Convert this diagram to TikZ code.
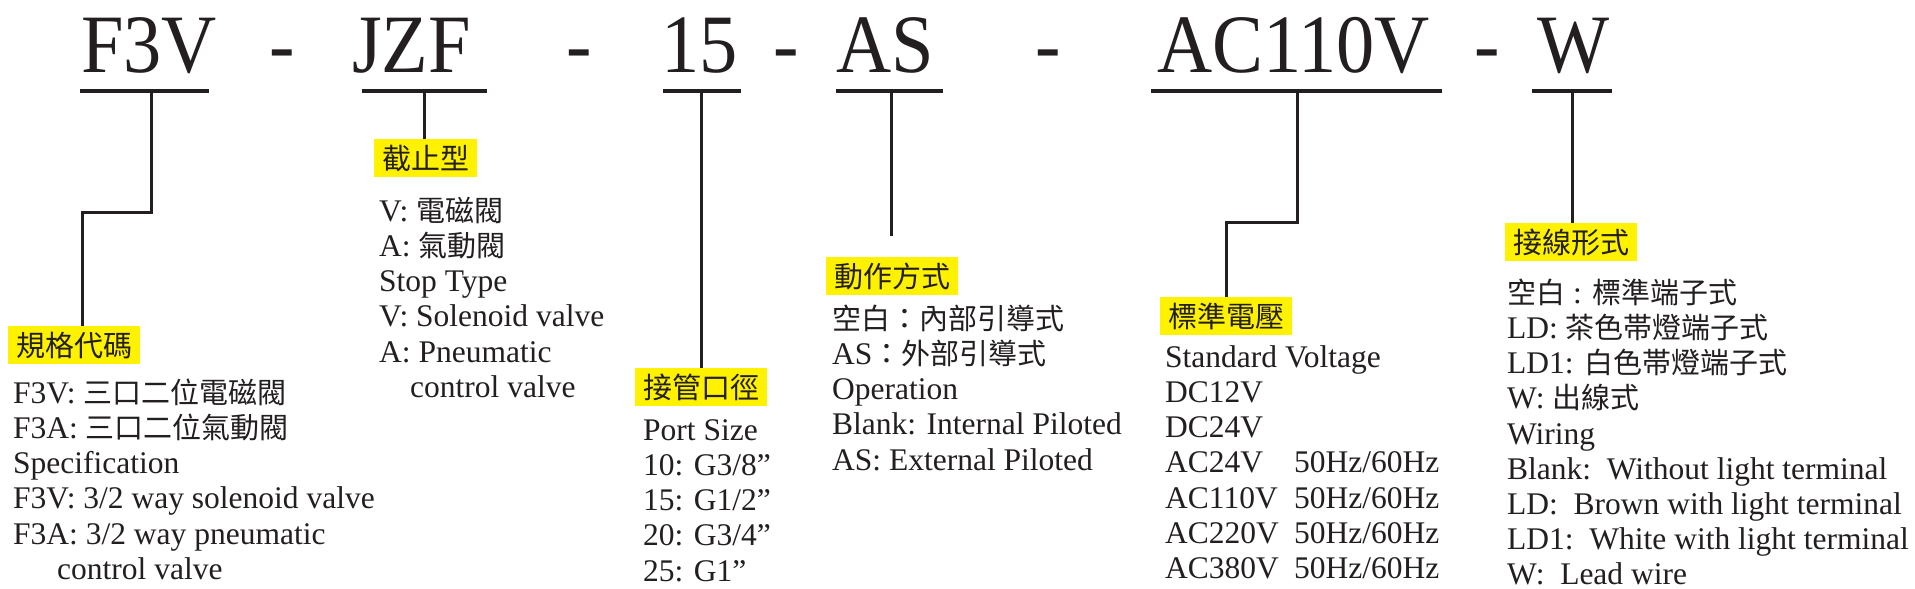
\documentclass[tikz,border=0pt]{standalone}
\usepackage{fontspec}
\setmainfont{Liberation Serif}
\newfontfamily\cjk[Scale=0.92]{Noto Sans CJK TC}
\newfontfamily\titlefont[FakeStretch=0.92]{Liberation Serif}
\definecolor{ink}{HTML}{231F20}
\definecolor{hl}{HTML}{FFF200}
\newcommand\zh[1]{{\cjk #1}}
\begin{document}
\begin{tikzpicture}[x=1pt,y=-1pt,
  every node/.style={text=ink},
  code/.style={font=\titlefont\fontsize{83}{90}\selectfont, anchor=base west, inner sep=0pt},
  uline/.style={draw=ink, line width=3.5pt},
  conn/.style={draw=ink, line width=3pt},
  lab/.style={fill=hl, font=\fontsize{31.5}{35}\selectfont\cjk, inner xsep=8pt, inner ysep=0pt, minimum height=38pt, anchor=north west},
  body/.style={font=\fontsize{31.5}{35.2}\selectfont, align=left, anchor=north west, inner sep=0pt}]
\fill[white] (0,0) rectangle (1915,589);
\useasboundingbox (0,0) rectangle (1915,589);

% code parts
\node[code] (c1) at (81,72) {F3V};
\node[code] (d1) at (269,72) {-};
\node[code] (c2) at (352,72) {JZF};
\node[code] (d2) at (566,72) {-};
\node[code] (c3) at (661,72) {15};
\node[code] (d3) at (773,72) {-};
\node[code] (c4) at (836,72) {AS};
\node[code] (d4) at (1035,72) {-};
\node[code] (c5) at (1157,72) {AC110V};
\node[code] (d5) at (1474,72) {-};
\node[code] (c6) at (1537,72) {W};

% underlines
\coordinate (u1a) at (80,91);   \coordinate (u1b) at (209,91);
\coordinate (u2a) at (362,91);  \coordinate (u2b) at (487,91);
\coordinate (u3a) at (663,91);  \coordinate (u3b) at (741,91);
\coordinate (u4a) at (836,91);  \coordinate (u4b) at (943,91);
\coordinate (u5a) at (1151,91); \coordinate (u5b) at (1442,91);
\coordinate (u6a) at (1532,91); \coordinate (u6b) at (1612,91);
\foreach \i in {1,...,6} \draw[uline] (u\i a) -- (u\i b);

% labels
\node[lab] (l1) at (8,326) {規格代碼};
\node[lab] (l2) at (374,139) {截止型};
\node[lab] (l3) at (635,368) {接管口徑};
\node[lab] (l4) at (826,257) {動作方式};
\node[lab] (l5) at (1160,297) {標準電壓};
\node[lab] (l6) at (1505,223) {接線形式};

% connectors
\coordinate (t1) at (151,91);  \coordinate (e1) at (82,212);
\coordinate (t2) at (424,91);
\coordinate (t3) at (701,91);
\coordinate (t4) at (891,91);  \coordinate (e4) at (891,236);
\coordinate (t5) at (1297,91); \coordinate (e5) at (1226,222);
\coordinate (t6) at (1572,91);
\draw[conn] (t1) |- (e1) -- (e1 |- l1.north);
\draw[conn] (t2) -- (t2 |- l2.north);
\draw[conn] (t3) -- (t3 |- l3.north);
\draw[conn] (t4) -- (e4);
\draw[conn] (t5) |- (e5) -- (e5 |- l5.north);
\draw[conn] (t6) -- (t6 |- l6.north);

% descriptions
\node[body] (b1) at (13,376) {\rule{0pt}{27pt}F3V: \zh{三口二位電磁閥}\\
F3A: \zh{三口二位氣動閥}\\
Specification\\
F3V: 3/2 way solenoid valve\\
F3A: 3/2 way pneumatic\\
\hspace*{44pt}control valve};

\node[body] (b2) at (379,194) {\rule{0pt}{27pt}V: \zh{電磁閥}\\
A: \zh{氣動閥}\\
Stop Type\\
V: Solenoid valve\\
A: Pneumatic\\
\hspace*{31pt}control valve};

\node[body] (b3) at (643,413) {\rule{0pt}{27pt}Port Size\\
10: G3/8”\\
15: G1/2”\\
20: G3/4”\\
25: G1”};

\node[body] (b4) at (832,302) {\rule{0pt}{27pt}\zh{空白：內部引導式}\\
AS\zh{：外部引導式}\\
Operation\\
Blank: Internal Piloted\\
AS: External Piloted};

\node[body] (b5) at (1165,340) {\rule{0pt}{27pt}Standard Voltage\\
DC12V\\
DC24V\\
\makebox[129pt][l]{AC24V}50Hz/60Hz\\
\makebox[129pt][l]{AC110V}50Hz/60Hz\\
\makebox[129pt][l]{AC220V}50Hz/60Hz\\
\makebox[129pt][l]{AC380V}50Hz/60Hz};

\node[body] (b6) at (1507,276) {\rule{0pt}{27pt}\zh{空白} : \zh{標準端子式}\\
LD: \zh{茶色帯燈端子式}\\
LD1: \zh{白色帯燈端子式}\\
W: \zh{出線式}\\
Wiring\\
Blank:\ \ Without light terminal\\
LD:\ \ Brown with light terminal\\
LD1:\ \ White with light terminal\\
W:\ \ Lead wire};
\end{tikzpicture}
\end{document}
